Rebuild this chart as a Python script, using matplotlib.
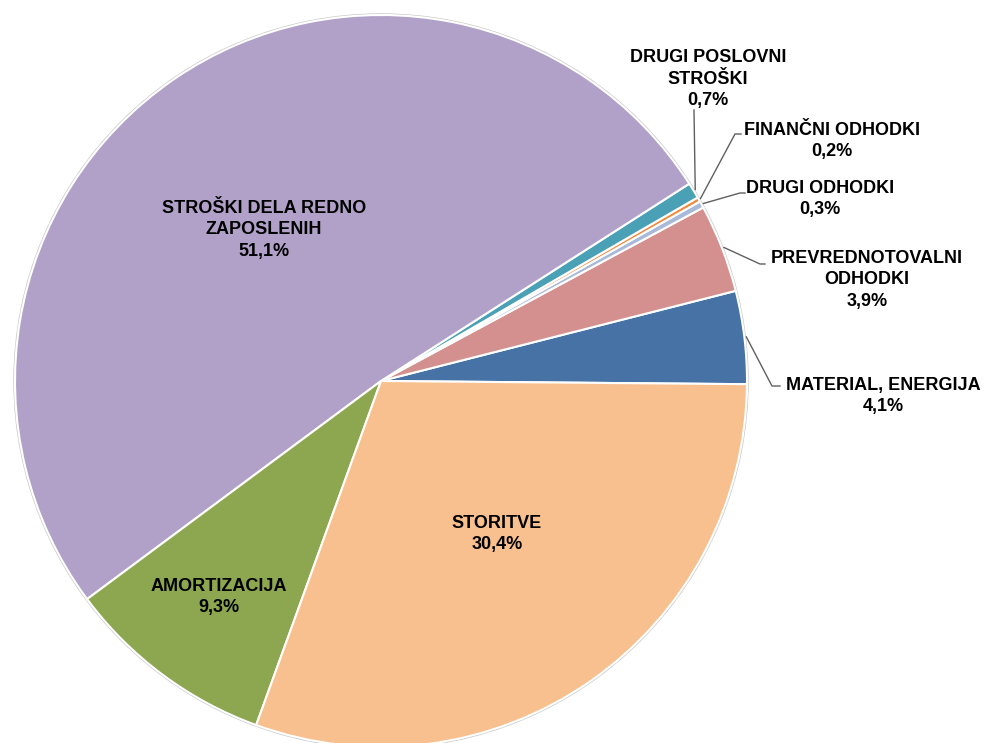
import numpy as np
import matplotlib.pyplot as plt

plt.rcParams['font.family'] = ['Liberation Sans', 'DejaVu Sans']

# podatki (v odstotkih), od 3h proti urinemu kazalcu v obratni smeri
labels = ['MATERIAL, ENERGIJA', 'PREVREDNOTOVALNI\nODHODKI', 'DRUGI ODHODKI',
          'FINANČNI ODHODKI', 'DRUGI POSLOVNI\nSTROŠKI', 'STROŠKI DELA REDNO\nZAPOSLENIH',
          'AMORTIZACIJA', 'STORITVE']
values = [4.1, 3.9, 0.3, 0.2, 0.7, 51.1, 9.3, 30.4]
colors = ['#4672A6', '#D3908E', '#A8B9DA', '#F08A3E', '#4AA0B5', '#B1A1C8', '#8CA74F', '#F9C08F']

# postavitev (piksli)
W, H = 984, 743
cx, cy, R = 381, H - 381, 366

# pozicije oznak: (x, y) sredina besedila
label_pos = [(883, 396), (867, 280), (820, 199), (832, 141), (708, 79),
             (264, 230), (219, 597), (497, 534)]
# kolena in konci vodilnih črt
elbows = [(772, 386), (760, 264), (740, 193), (735, 134), None, None, None, None]
ends = [(780, 386), (765, 264), (745, 193), (741, 134), (694, 110), None, None, None]

fig = plt.figure(figsize=(W / 100, H / 100), dpi=100)
ax = fig.add_axes([0, 0, 1, 1])

wedges, _ = ax.pie(values, colors=colors, startangle=-0.5, counterclock=True,
                   center=(cx, cy), radius=R, frame=True,
                   wedgeprops=dict(edgecolor='white', linewidth=1.5))
ax.set_xlim(0, W)
ax.set_ylim(0, H)
ax.set_aspect('equal')
ax.axis('off')

# rahel siv rob kroga
ax.add_patch(plt.Circle((cx, cy), R + 1, fill=False, edgecolor='#C8C8C8', linewidth=1, zorder=0))

for i, w in enumerate(wedges):
    txt = f"{labels[i]}\n{values[i]:.1f}%".replace('.', ',')
    lx, ly = label_pos[i]
    ax.text(lx, H - ly, txt, ha='center', va='center', fontsize=13, fontweight='bold',
            linespacing=1.35, color='black')
    if ends[i] is not None:
        ang = np.deg2rad((w.theta1 + w.theta2) / 2)
        sx, sy = cx + (R + 2) * np.cos(ang), cy + (R + 2) * np.sin(ang)
        pts = [(sx, sy)]
        if elbows[i] is not None:
            pts.append((elbows[i][0], H - elbows[i][1]))
        pts.append((ends[i][0], H - ends[i][1]))
        xs, ys = zip(*pts)
        ax.plot(xs, ys, color='#606060', linewidth=1)

fig.savefig('out.png', dpi=100)
